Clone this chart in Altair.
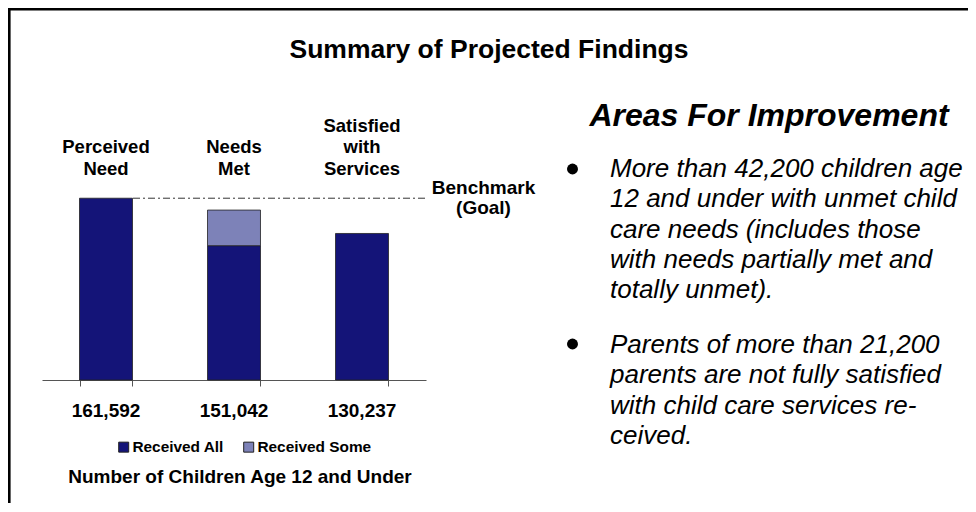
import altair as alt
import pandas as pd

FONT = "Liberation Sans"

# ---- data ----
categories = ["Perceived\nNeed", "Needs\nMet", "Satisfied\nwith\nServices"]
totals = [161592, 151042, 130237]
series = ["Received All", "Received Some"]
received_all = [161592, 119392, 130237]
received_some = [0, 31650, 0]
benchmark_value = [161592]
benchmark_label = ["Benchmark\n(Goal)"]
title_text = ["Summary of Projected Findings"]
axis_title = ["Number of Children Age 12 and Under"]
panel_title = ["Areas For Improvement"]
bullet_texts = [
    "More than 42,200 children age\n12 and under with unmet child\ncare needs (includes those\nwith needs partially met and\ntotally unmet).",
    "Parents of more than 21,200\nparents are not fully satisfied\nwith child care services re-\nceived.",
]

DARK = "#141478"
LIGHT = "#7D82B8"

rows = []
for c, a, s in zip(categories, received_all, received_some):
    rows.append({"category": c, "series": series[0], "value": a, "ord": 0})
    if s > 0:
        rows.append({"category": c, "series": series[1], "value": s, "ord": 1})
bars_df = pd.DataFrame(rows)
cat_df = pd.DataFrame({"category": categories, "total": totals})
one = pd.DataFrame({"a": [0]})

W, H = 384, 225
PL, PT, PR, PB = 34, 147, 542, 123

x_enc = alt.X(
    "category:N",
    sort=categories,
    scale=alt.Scale(domain=categories, paddingInner=0.586, paddingOuter=0.293),
    axis=alt.Axis(labels=False, title=None, tickBand="extent", tickSize=6,
                  domainColor="#555555", tickColor="#555555", domainWidth=1, tickWidth=1),
)
y_scale = alt.Scale(domain=[0, 200000])

bars = alt.Chart(bars_df).mark_bar(stroke="#222222", strokeWidth=0.8).encode(
    x=x_enc,
    y=alt.Y("value:Q", stack="zero", scale=y_scale, axis=None),
    color=alt.Color(
        "series:N",
        scale=alt.Scale(domain=series, range=[DARK, LIGHT]),
        legend=alt.Legend(
            orient="none", legendX=74, legendY=284, direction="horizontal", title=None,
            symbolType="square", symbolSize=100, symbolStrokeColor="#222222",
            symbolStrokeWidth=1, symbolOpacity=1,
            labelFont=FONT, labelFontSize=15.4, labelFontWeight="bold", labelColor="black",
            labelOffset=1, columnPadding=17,
        ),
    ),
    order=alt.Order("ord:Q"),
)

bench = alt.Chart(pd.DataFrame({"value": benchmark_value})).mark_rule(
    color="#333333", strokeWidth=1, strokeDash=[7, 3, 2, 3]
).encode(
    y=alt.Y("value:Q", scale=y_scale, axis=None),
    x=alt.value(91), x2=alt.value(383),
)

bench_text = alt.Chart(pd.DataFrame({"t": benchmark_label})).mark_text(
    font=FONT, fontSize=19, fontWeight="bold", color="black", align="center",
    baseline="alphabetic", lineBreak="\n", lineHeight=20,
).encode(text="t:N", x=alt.value(441.5), y=alt.value(39.3))

# category labels: last line's baseline aligned across categories
cat_labels = alt.Chart(cat_df).transform_calculate(
    ly="20 - (length(split(datum.category, '\\n')) - 1) * 21.7"
).mark_text(
    font=FONT, fontSize=18.5, fontWeight="bold", color="black", align="center",
    baseline="alphabetic", lineBreak="\n", lineHeight=21.7,
).encode(x=x_enc, text="category:N", y=alt.Y("ly:Q", scale=None, axis=None))

val_labels = alt.Chart(cat_df).mark_text(
    font=FONT, fontSize=19, fontWeight="bold", color="black", align="center",
    baseline="alphabetic",
).encode(x=x_enc, text=alt.Text("total:Q", format=","), y=alt.value(262))

axis_title_layer = alt.Chart(pd.DataFrame({"t": axis_title})).mark_text(
    font=FONT, fontSize=19, fontWeight="bold", color="black", align="center",
    baseline="alphabetic",
).encode(text="t:N", x=alt.value(198), y=alt.value(328))

title_layer = alt.Chart(pd.DataFrame({"t": title_text})).mark_text(
    font=FONT, fontSize=26.5, fontWeight="bold", color="black", align="center",
    baseline="alphabetic",
).encode(text="t:N", x=alt.value(447), y=alt.value(-97))

panel_title_layer = alt.Chart(pd.DataFrame({"t": panel_title})).mark_text(
    font=FONT, fontSize=32, fontWeight="bold", fontStyle="italic", color="black",
    align="center", baseline="alphabetic",
).encode(text="t:N", x=alt.value(727), y=alt.value(-29))

bullet1 = alt.Chart(pd.DataFrame({"t": bullet_texts[:1]})).mark_text(
    font=FONT, fontSize=26, fontStyle="italic", color="black", align="left",
    baseline="alphabetic", lineBreak="\n", lineHeight=30.3,
).encode(text="t:N", x=alt.value(568), y=alt.value(22))

bullet2 = alt.Chart(pd.DataFrame({"t": bullet_texts[1:]})).mark_text(
    font=FONT, fontSize=26, fontStyle="italic", color="black", align="left",
    baseline="alphabetic", lineBreak="\n", lineHeight=30.3,
).encode(text="t:N", x=alt.value(568), y=alt.value(198))

dot1 = alt.Chart(one).mark_point(filled=True, shape="circle", size=120, color="black", opacity=1).encode(
    x=alt.value(530.5), y=alt.value(14)
)
dot2 = alt.Chart(one).mark_point(filled=True, shape="circle", size=120, color="black", opacity=1).encode(
    x=alt.value(530.5), y=alt.value(189)
)

border_top = alt.Chart(one).mark_rule(color="black", strokeWidth=2.6).encode(
    x=alt.value(-PL), x2=alt.value(W + PR), y=alt.value(-PT + 1.3)
)
border_left = alt.Chart(one).mark_rule(color="black", strokeWidth=2.6).encode(
    x=alt.value(-PL + 1.3), y=alt.value(-PT), y2=alt.value(H + PB)
)

chart = alt.layer(
    bench, bars, bench_text, cat_labels, val_labels, axis_title_layer, title_layer,
    panel_title_layer, bullet1, bullet2, dot1, dot2, border_top, border_left,
).properties(
    width=W, height=H,
    autosize=alt.AutoSizeParams(type="none"),
    padding={"left": PL, "top": PT, "right": PR, "bottom": PB},
    background="white",
).configure_view(stroke=None)

chart.save("out.html", embed_options={"renderer": "svg", "actions": False})
